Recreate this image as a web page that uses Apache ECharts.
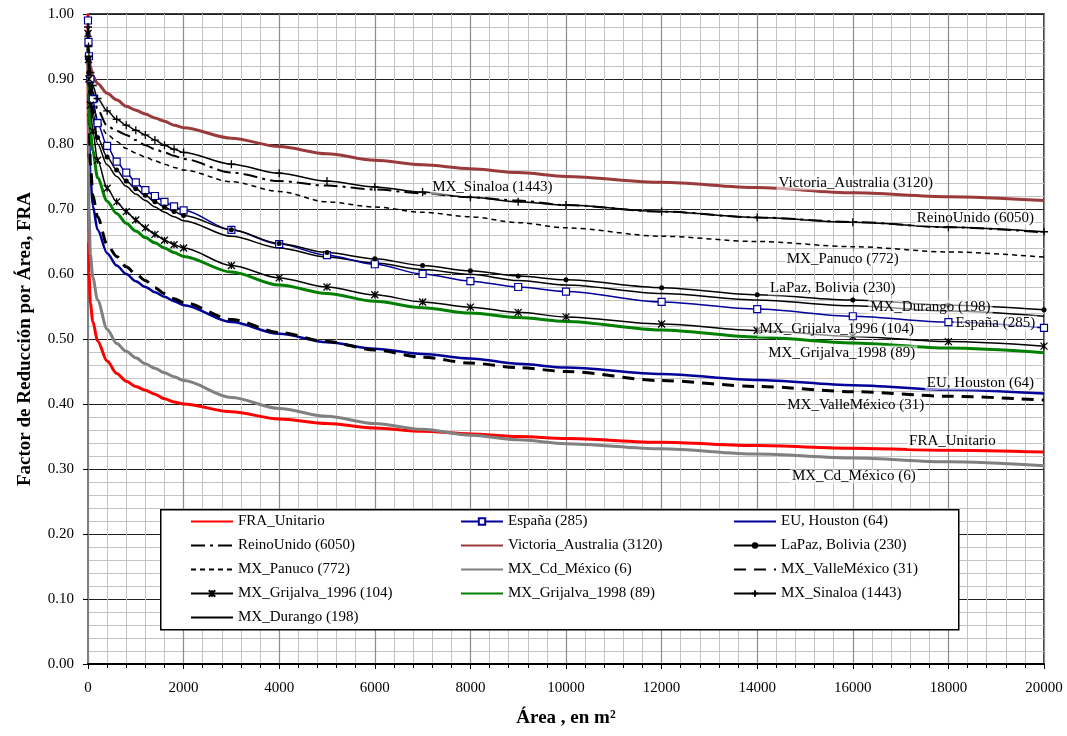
<!DOCTYPE html>
<html><head><meta charset="utf-8">
<script src="https://cdn.jsdelivr.net/npm/echarts@6/dist/echarts.min.js"></script>
<style>html,body{margin:0;padding:0;background:#fff}#c{width:1067px;height:736px}</style>
</head><body><div id="c"></div>
<script>
// Área (m²) sample points
const X = [0, 10, 20, 50, 100, 200, 400, 600, 800, 1000, 1200, 1400, 1600, 1800, 2000, 3000, 4000, 5000, 6000, 7000, 8000, 9000, 10000, 12000, 14000, 16000, 18000, 20000];
const fraUnitario = [1.00, 0.65, 0.60, 0.555, 0.527, 0.497, 0.466, 0.447, 0.435, 0.427, 0.421, 0.415, 0.408, 0.403, 0.400, 0.388, 0.377, 0.370, 0.363, 0.358, 0.354, 0.350, 0.347, 0.341, 0.336, 0.332, 0.329, 0.326];
const espana = [0.99, 0.957, 0.935, 0.90, 0.869, 0.832, 0.797, 0.773, 0.756, 0.741, 0.729, 0.720, 0.711, 0.704, 0.698, 0.668, 0.646, 0.629, 0.615, 0.600, 0.589, 0.580, 0.573, 0.557, 0.546, 0.535, 0.526, 0.517];
const houston = [0.96, 0.87, 0.82, 0.75, 0.705, 0.668, 0.632, 0.613, 0.600, 0.589, 0.580, 0.572, 0.565, 0.558, 0.552, 0.526, 0.508, 0.495, 0.485, 0.477, 0.470, 0.462, 0.456, 0.446, 0.437, 0.429, 0.422, 0.416];
const reinoUnido = [0.97, 0.94, 0.92, 0.90, 0.88, 0.853, 0.828, 0.820, 0.814, 0.806, 0.798, 0.792, 0.787, 0.782, 0.777, 0.756, 0.743, 0.736, 0.730, 0.724, 0.718, 0.713, 0.706, 0.696, 0.687, 0.680, 0.672, 0.664];
const victoria = [0.98, 0.95, 0.935, 0.92, 0.905, 0.893, 0.878, 0.868, 0.858, 0.852, 0.846, 0.840, 0.835, 0.829, 0.825, 0.809, 0.796, 0.785, 0.775, 0.768, 0.762, 0.756, 0.750, 0.741, 0.733, 0.725, 0.719, 0.713];
const laPaz = [0.97, 0.93, 0.91, 0.88, 0.85, 0.81, 0.78, 0.76, 0.743, 0.731, 0.721, 0.711, 0.703, 0.696, 0.690, 0.668, 0.647, 0.633, 0.6235, 0.613, 0.605, 0.597, 0.591, 0.579, 0.568, 0.560, 0.552, 0.545];
const panuco = [0.97, 0.93, 0.91, 0.88, 0.86, 0.838, 0.815, 0.804, 0.793, 0.786, 0.780, 0.774, 0.769, 0.764, 0.760, 0.742, 0.727, 0.711, 0.703, 0.695, 0.688, 0.679, 0.671, 0.658, 0.650, 0.642, 0.634, 0.626];
const cdMexico = [0.96, 0.78, 0.70, 0.63, 0.595, 0.56, 0.515, 0.493, 0.481, 0.471, 0.462, 0.455, 0.448, 0.442, 0.436, 0.410, 0.393, 0.381, 0.370, 0.361, 0.352, 0.345, 0.339, 0.331, 0.323, 0.317, 0.311, 0.305];
const valleMexico = [0.97, 0.88, 0.84, 0.77, 0.722, 0.688, 0.645, 0.627, 0.611, 0.600, 0.590, 0.579, 0.570, 0.562, 0.556, 0.530, 0.510, 0.496, 0.483, 0.472, 0.463, 0.456, 0.450, 0.436, 0.427, 0.419, 0.412, 0.406];
const grijalva96 = [0.97, 0.93, 0.90, 0.86, 0.82, 0.775, 0.732, 0.711, 0.696, 0.683, 0.671, 0.661, 0.652, 0.645, 0.640, 0.613, 0.594, 0.580, 0.568, 0.557, 0.549, 0.541, 0.534, 0.523, 0.513, 0.504, 0.496, 0.489];
const grijalva98 = [0.96, 0.88, 0.85, 0.82, 0.79, 0.748, 0.712, 0.693, 0.678, 0.666, 0.656, 0.648, 0.640, 0.633, 0.627, 0.603, 0.583, 0.570, 0.558, 0.548, 0.540, 0.533, 0.527, 0.514, 0.503, 0.494, 0.486, 0.479];
const sinaloa = [0.98, 0.95, 0.935, 0.91, 0.89, 0.87, 0.851, 0.838, 0.829, 0.821, 0.814, 0.806, 0.798, 0.792, 0.787, 0.769, 0.755, 0.743, 0.734, 0.726, 0.718, 0.711, 0.706, 0.696, 0.687, 0.6795, 0.672, 0.665];
const durango = [0.97, 0.92, 0.90, 0.87, 0.84, 0.80, 0.768, 0.750, 0.735, 0.723, 0.713, 0.703, 0.695, 0.688, 0.682, 0.658, 0.640, 0.626, 0.617, 0.607, 0.5995, 0.590, 0.583, 0.570, 0.560, 0.551, 0.543, 0.535];
const xTicks = [0, 2000, 4000, 6000, 8000, 10000, 12000, 14000, 16000, 18000, 20000];
const yTicks = [0, 0.1, 0.2, 0.3, 0.4, 0.5, 0.6, 0.7, 0.8, 0.9, 1.0];

const FONT = 'Liberation Serif';
const ASTER = 'path://M0,0L10,10M10,0L0,10M5,0L5,10';
const PLUS = 'path://M5,0L5,10M0,5L10,5';

function pts(arr){ return X.map((x,i)=>[x, arr[i]]); }
function mk(name, arr, line, sym, labelText, anchorX, off){
  const i = X.indexOf(anchorX);
  return {
    name, type:'line', data: pts(arr), smooth:0.3, smoothMonotone:'x',
    lineStyle: line,
    itemStyle: sym ? sym.itemStyle : {color: line.color, opacity: 0},
    symbol: sym ? sym.symbol : 'circle', symbolSize: sym ? sym.size : 1,
    showSymbol: !!sym, animation:false, z: sym ? 3 : 2,
    markPoint: {
      symbol:'circle', symbolSize:0, silent:true, animation:false,
      itemStyle:{opacity:0},
      data:[{coord:[X[i], arr[i]], value: labelText,
        label:{show:true, formatter: labelText, position:'inside', offset: off,
          color:'#000', fontFamily:FONT, fontSize:15, opacity:1,
          backgroundColor:'rgba(255,255,255,0.55)', padding:[0,2]}}]
    }
  };
}

const series = [
  mk('FRA_Unitario', fraUnitario, {color:'#ff0000', width:3}, null, 'FRA_Unitario', 18000, [4,-9]),
  mk('España (285)', espana, {color:'#000099', width:1.5}, {symbol:'rect', size:7, itemStyle:{color:'#fff', borderColor:'#000099', borderWidth:1.2}}, 'España (285)', 18000, [47,1]),
  mk('EU, Houston (64)', houston, {color:'#000099', width:2.5}, null, 'EU, Houston (64)', 18000, [32,-7]),
  mk('ReinoUnido (6050)', reinoUnido, {color:'#000', width:2, type:[14,5,3,5]}, null, 'ReinoUnido (6050)', 18000, [27,-9]),
  mk('Victoria_Australia (3120)', victoria, {color:'#9b3a3a', width:3}, null, 'Victoria_Australia (3120)', 16000, [3,-10]),
  mk('LaPaz, Bolivia (230)', laPaz, {color:'#000', width:1.5}, {symbol:'circle', size:5, itemStyle:{color:'#000', borderColor:'#000', borderWidth:0}}, 'LaPaz, Bolivia (230)', 16000, [-20,-12]),
  mk('MX_Panuco (772)', panuco, {color:'#000', width:1.5, type:[5,4]}, null, 'MX_Panuco (772)', 16000, [-10,12]),
  mk('MX_Cd_México (6)', cdMexico, {color:'#808080', width:3}, null, 'MX_Cd_México (6)', 16000, [1,18]),
  mk('MX_ValleMéxico (31)', valleMexico, {color:'#000', width:3, type:[12,8]}, null, 'MX_ValleMéxico (31)', 16000, [3,13]),
  mk('MX_Grijalva_1996 (104)', grijalva96, {color:'#000', width:1.5}, {symbol:ASTER, size:7, itemStyle:{color:'#000', borderColor:'#000', borderWidth:1.3}}, 'MX_Grijalva_1996 (104)', 16000, [-16,-7]),
  mk('MX_Grijalva_1998 (89)', grijalva98, {color:'#008000', width:3}, null, 'MX_Grijalva_1998 (89)', 16000, [-11,10]),
  mk('MX_Sinaloa (1443)', sinaloa, {color:'#000', width:1.5}, {symbol:PLUS, size:8, itemStyle:{color:'#000', borderColor:'#000', borderWidth:1.3}}, 'MX_Sinaloa (1443)', 8000, [22,-10]),
  mk('MX_Durango (198)', durango, {color:'#000', width:1.5}, null, 'MX_Durango (198)', 18000, [-18,-4])
];

const legBase = {orient:'vertical', top:514, itemWidth:42, itemHeight:8, itemGap:9, selectedMode:false, z:10,
  textStyle:{fontFamily:FONT, fontSize:15, color:'#000'}, padding:0};

const chart = echarts.init(document.getElementById('c'), null, {renderer:'canvas'});
chart.setOption({
  animation:false,
  backgroundColor:'#fff',
  grid:{left:88, right:23, top:14, bottom:72, show:true, borderColor:'#000', borderWidth:1.5, backgroundColor:'transparent'},
  xAxis:{type:'value', min:xTicks[0], max:xTicks[xTicks.length-1], interval:xTicks[1]-xTicks[0],
    name:'Área , en m²', nameLocation:'middle', nameGap:45,
    nameTextStyle:{fontFamily:FONT, fontSize:19, fontWeight:'bold', color:'#000'},
    axisLine:{lineStyle:{color:'#000', width:2}},
    axisTick:{show:true, length:5, lineStyle:{color:'#000'}},
    minorTick:{show:true, splitNumber:5, length:4, lineStyle:{color:'#000'}},
    axisLabel:{fontFamily:FONT, fontSize:15, color:'#000', margin:17, formatter:v=>String(v)},
    splitLine:{show:true, lineStyle:{color:'#8c8c8c', width:1.2}},
    minorSplitLine:{show:true, lineStyle:{color:'#c4c4c4', width:1}}},
  yAxis:{type:'value', min:yTicks[0], max:yTicks[yTicks.length-1], interval:0.1,
    name:'Factor de Reducción por Área, FRA', nameLocation:'middle', nameGap:53,
    nameTextStyle:{fontFamily:FONT, fontSize:19, fontWeight:'bold', color:'#000'},
    axisLine:{show:true, lineStyle:{color:'#808080', width:2}},
    axisTick:{show:true, length:5, lineStyle:{color:'#000'}},
    minorTick:{show:false, splitNumber:5},
    axisLabel:{fontFamily:FONT, fontSize:15, color:'#000', margin:14, formatter:v=>v.toFixed(2)},
    splitLine:{show:true, lineStyle:{color:'#202020', width:1}},
    minorSplitLine:{show:true, lineStyle:{color:'#c4c4c4', width:1}}},
  graphic:[{type:'rect', left:160, top:509, z:8, shape:{width:798, height:120},
    style:{fill:'#fff', stroke:'#000', lineWidth:1.5}}],
  legend:[
    Object.assign({}, legBase, {left:190, data:['FRA_Unitario','ReinoUnido (6050)','MX_Panuco (772)','MX_Grijalva_1996 (104)','MX_Durango (198)']}),
    Object.assign({}, legBase, {left:460, data:['España (285)','Victoria_Australia (3120)','MX_Cd_México (6)','MX_Grijalva_1998 (89)']}),
    Object.assign({}, legBase, {left:733, data:['EU, Houston (64)','LaPaz, Bolivia (230)','MX_ValleMéxico (31)','MX_Sinaloa (1443)']})
  ],
  series
});
</script></body></html>
